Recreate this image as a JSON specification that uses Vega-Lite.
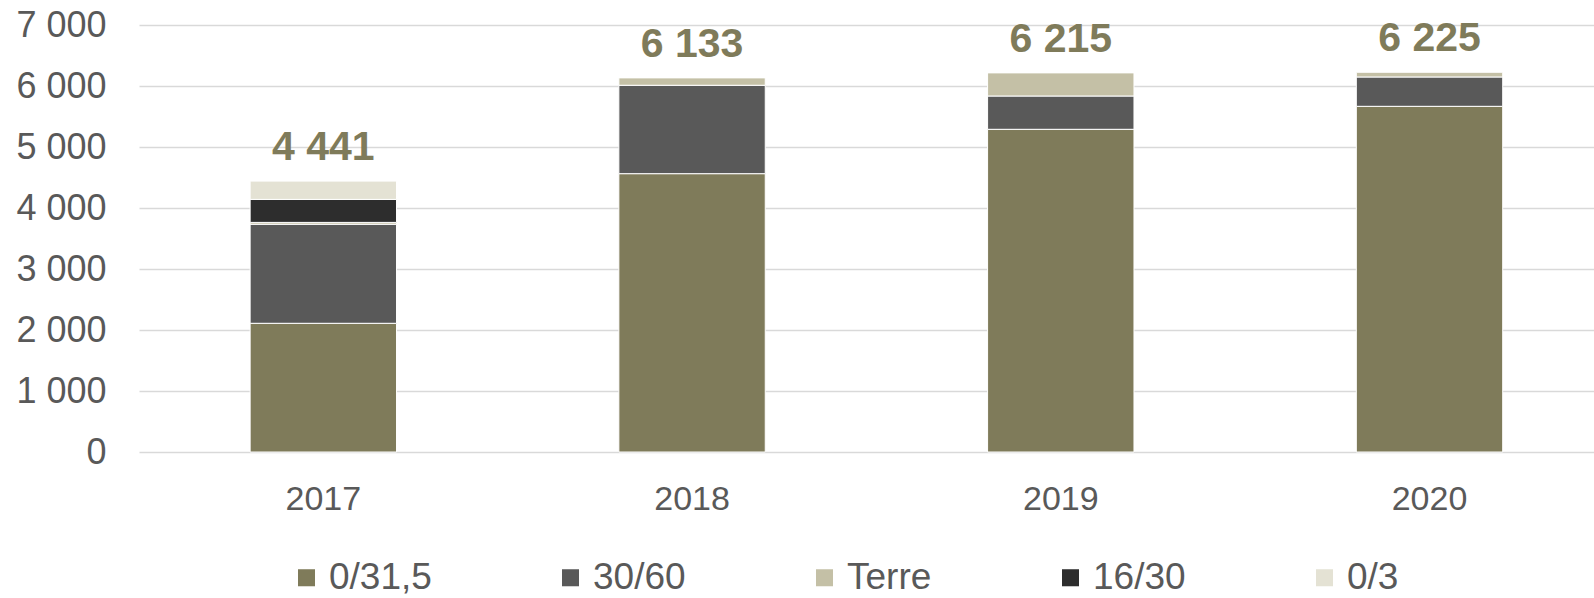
{
  "$schema": "https://vega.github.io/schema/vega-lite/v6.json",
  "autosize": "none",
  "width": 1455,
  "height": 427,
  "padding": {"left": 139, "top": 25, "right": 0, "bottom": 146},
  "background": "white",
  "config": {
    "locale": {"number": {"decimal": ",", "thousands": " ", "grouping": [3], "currency": ["", " €"]}},
    "font": "Liberation Sans",
    "view": {"stroke": null}
  },
  "data": {
    "values": [
      {"annee": "2017", "serie": "0/31,5", "rang": 1, "tonnes": 2110},
      {"annee": "2017", "serie": "30/60", "rang": 2, "tonnes": 1624},
      {"annee": "2017", "serie": "Terre", "rang": 3, "tonnes": 30},
      {"annee": "2017", "serie": "16/30", "rang": 4, "tonnes": 377},
      {"annee": "2017", "serie": "0/3", "rang": 5, "tonnes": 300},
      {"annee": "2018", "serie": "0/31,5", "rang": 1, "tonnes": 4563},
      {"annee": "2018", "serie": "30/60", "rang": 2, "tonnes": 1449},
      {"annee": "2018", "serie": "Terre", "rang": 3, "tonnes": 121},
      {"annee": "2019", "serie": "0/31,5", "rang": 1, "tonnes": 5290},
      {"annee": "2019", "serie": "30/60", "rang": 2, "tonnes": 546},
      {"annee": "2019", "serie": "Terre", "rang": 3, "tonnes": 379},
      {"annee": "2020", "serie": "0/31,5", "rang": 1, "tonnes": 5667},
      {"annee": "2020", "serie": "30/60", "rang": 2, "tonnes": 481},
      {"annee": "2020", "serie": "Terre", "rang": 3, "tonnes": 77}
    ]
  },
  "encoding": {
    "x": {
      "field": "annee", "type": "nominal", "title": null,
      "scale": {"paddingInner": 0.603, "paddingOuter": 0.2745, "align": 0.549},
      "axis": {"domain": false, "ticks": false, "labelAngle": 0, "labelFontSize": 34, "labelColor": "#595959", "labelPadding": 30, "grid": false}
    }
  },
  "layer": [
    {
      "mark": {"type": "bar", "stroke": "white", "strokeWidth": 1},
      "encoding": {
        "y": {
          "field": "tonnes", "type": "quantitative", "aggregate": "sum", "stack": "zero", "title": null,
          "scale": {"domain": [0, 7000], "nice": false},
          "axis": {"values": [0, 1000, 2000, 3000, 4000, 5000, 6000, 7000], "format": ",d", "domain": false, "ticks": false, "labelFontSize": 36, "labelColor": "#595959", "labelPadding": 33, "gridColor": "#d9d9d9", "gridWidth": 1.5}
        },
        "color": {
          "field": "serie", "type": "nominal",
          "scale": {"domain": ["0/31,5", "30/60", "Terre", "16/30", "0/3"], "range": ["#7f7b5a", "#595959", "#c4c0a6", "#2d2d2d", "#e4e2d4"]},
          "legend": {
            "title": null, "orient": "none", "direction": "horizontal", "legendX": 149, "legendY": 534,
            "symbolType": "square", "symbolSize": 290, "symbolStrokeWidth": 0, "labelFontSize": 37, "labelColor": "#595959",
            "labelOffset": 4, "columnPadding": 120, "labelLimit": 300
          }
        },
        "order": {"field": "rang", "type": "quantitative"}
      }
    },
    {
      "mark": {"type": "text", "fontSize": 41, "fontWeight": "bold", "color": "#7f7b5a", "baseline": "alphabetic", "dy": -21},
      "encoding": {
        "y": {"field": "tonnes", "type": "quantitative", "aggregate": "sum"},
        "text": {"field": "tonnes", "type": "quantitative", "aggregate": "sum", "format": ",d"}
      }
    }
  ]
}
